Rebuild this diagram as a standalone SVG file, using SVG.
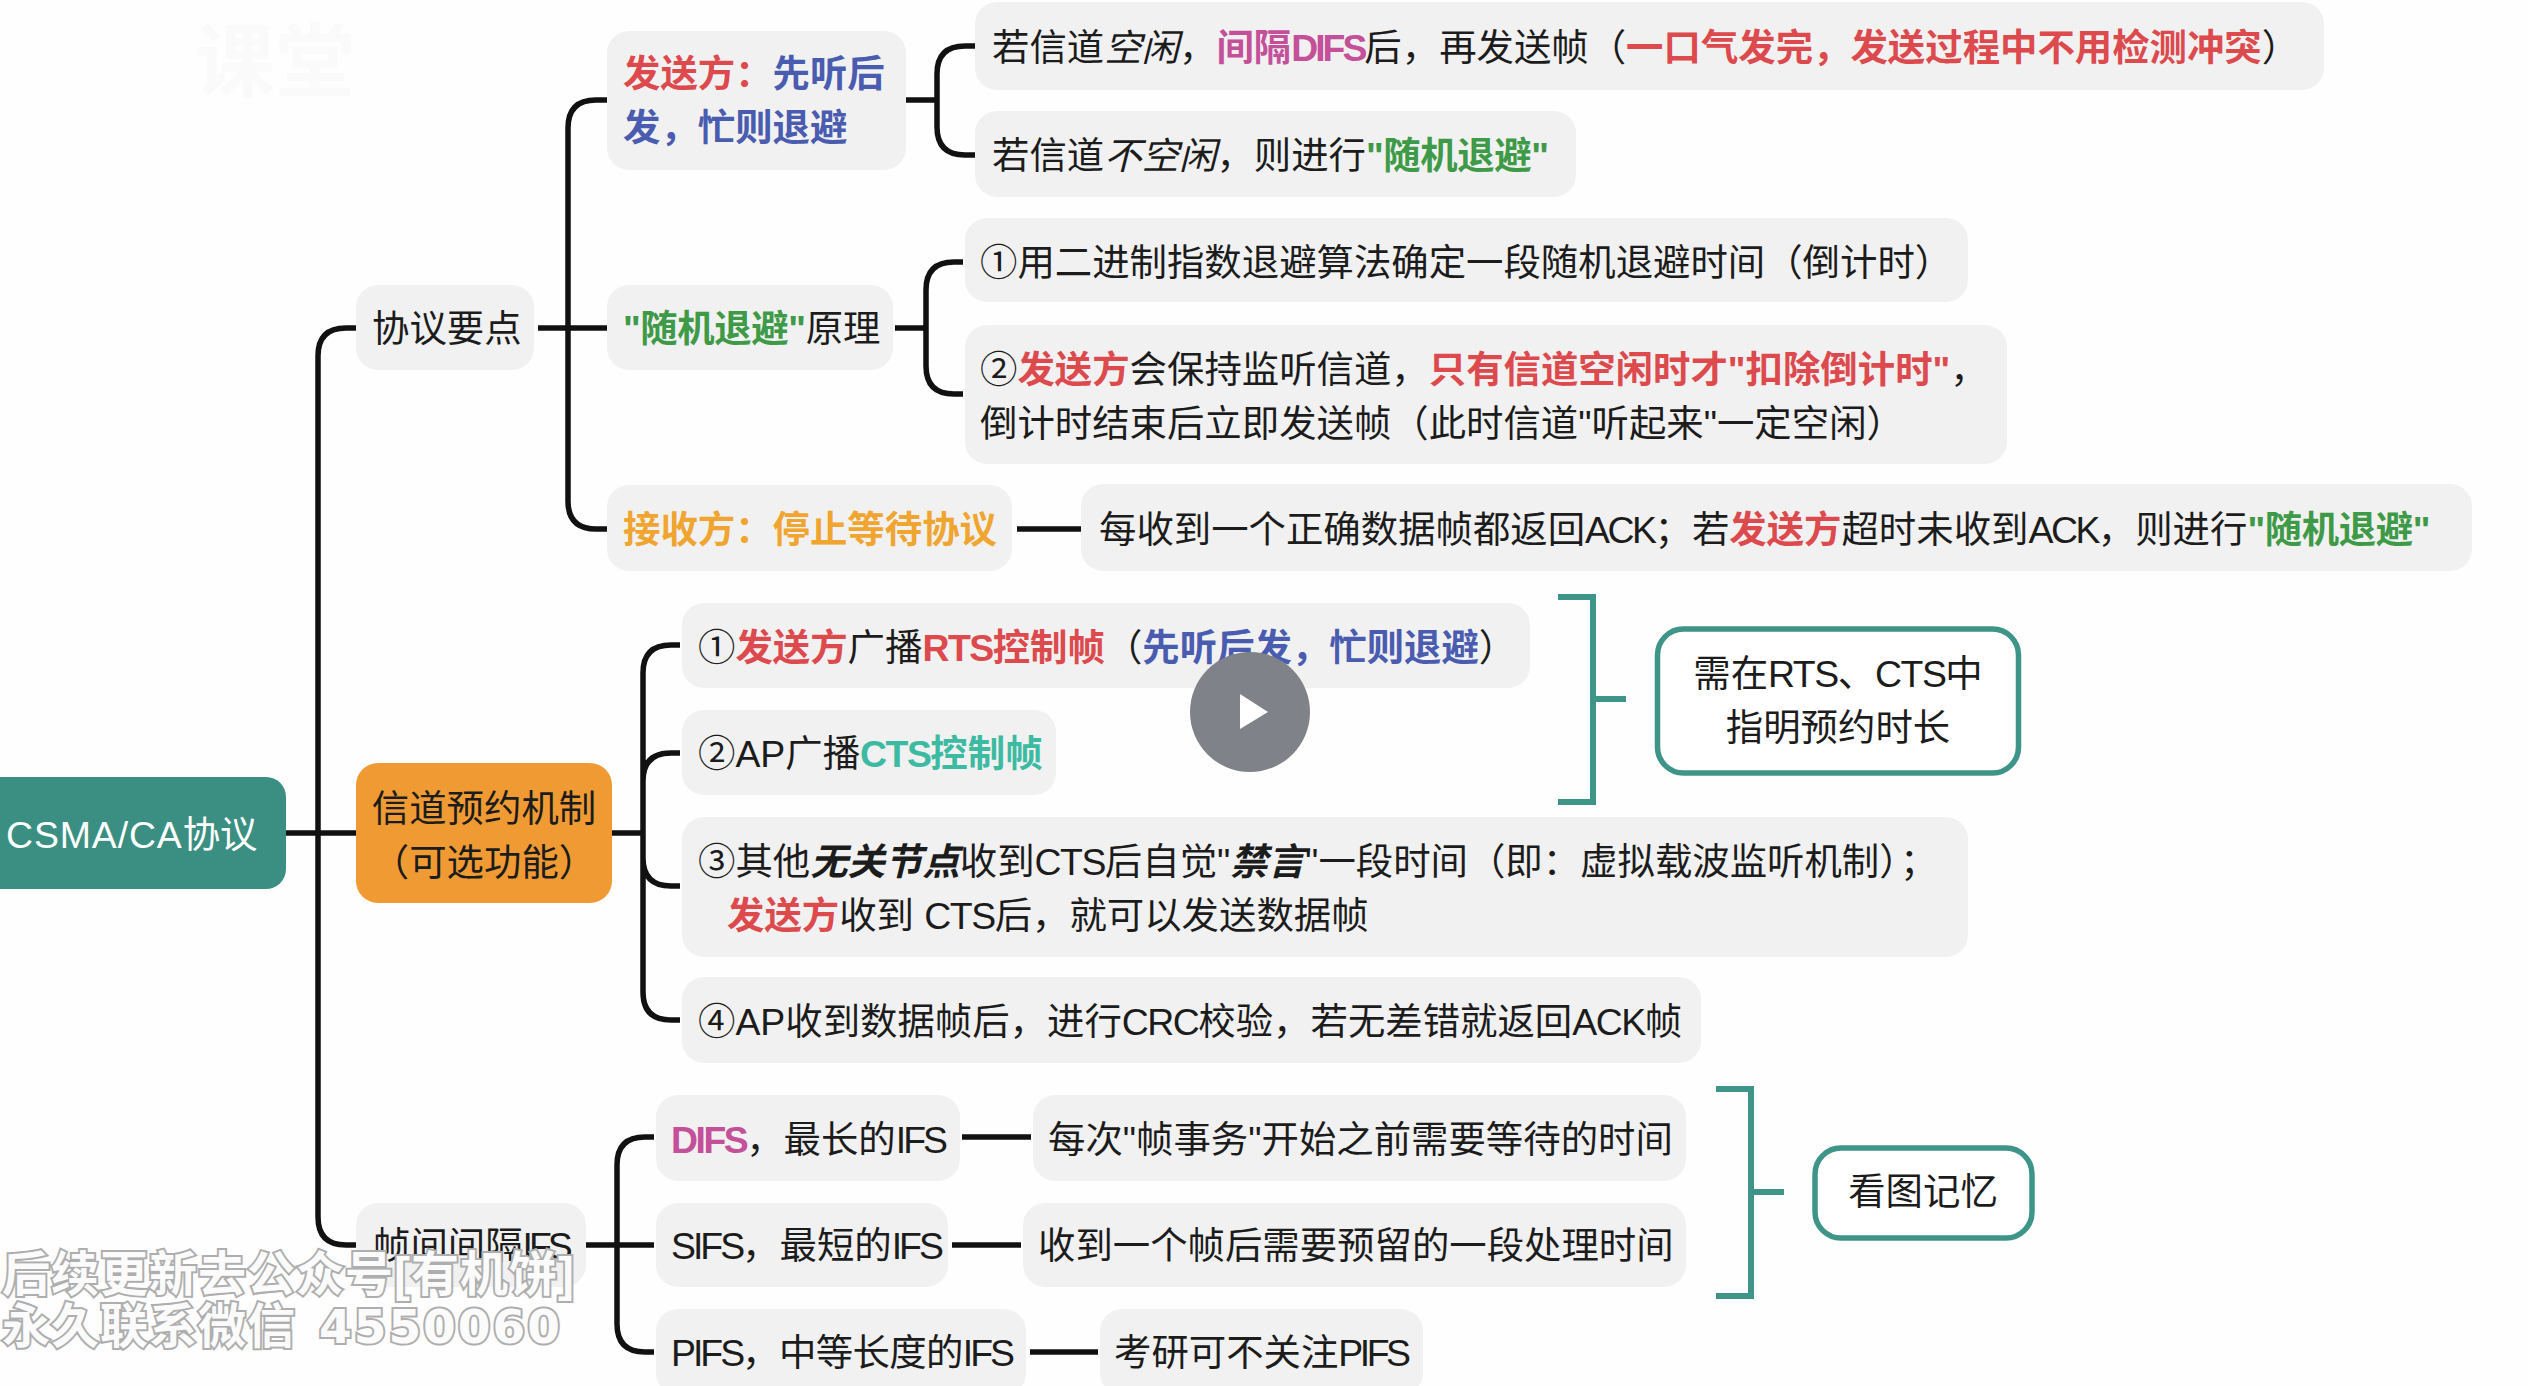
<svg xmlns="http://www.w3.org/2000/svg" width="2528" height="1386" viewBox="0 0 2528 1386">
<style>
text{font-family:"Liberation Sans","Noto Sans CJK SC",sans-serif;font-size:37.4px;fill:#1c1c1c}
.n{fill:#f1f1f1}
.c path{fill:none;stroke:#111;stroke-width:5.5;stroke-linecap:butt}
.b path{fill:none;stroke:#3f9488;stroke-width:6}
.o{fill:#fff;stroke:#3f9488;stroke-width:5.5}
.r{fill:#dd4a4e;font-weight:700}
.bl{fill:#4a5cb0;font-weight:700}
.g{fill:#3f9a48;font-weight:700;letter-spacing:-.4px}
.y{fill:#efa52f;font-weight:700}
.m{fill:#c4509a;font-weight:700}
.t{fill:#3dbaa2;font-weight:700}
.i{font-style:italic}
.bi{font-style:italic;font-weight:700}
.l{letter-spacing:-3px}
.k{letter-spacing:-2.5px}
.s{letter-spacing:-1.5px}
.w{font-size:48px;font-weight:700;fill:#fbfbfb;stroke:#aeaeae;stroke-width:4}
.d{font-family:"DejaVu Sans",sans-serif;font-size:47px;letter-spacing:2px}
.wt{font-weight:700;fill:#fafafa;font-size:80px}
</style>
<rect width="2528" height="1386" fill="#fefefe"/>
<text class="wt" x="195" y="90">课堂</text>
<g class="c" id="connectors">
<path d="M286 833H356"/>
<path d="M356 328H346Q318 328 318 356V1217Q318 1245 346 1245H358"/>
<path d="M538 328H607"/>
<path d="M607 100H596Q568 100 568 128V501Q568 529 596 529H607"/>
<path d="M906 100H937M976 46H965Q937 46 937 74V127Q937 155 965 155H976"/>
<path d="M895 328H926M963 262H954Q926 262 926 290V366Q926 394 954 394H963"/>
<path d="M1017 529H1081"/>
<path d="M612 833H643M680 645H671Q643 645 643 673V992Q643 1020 671 1020H680M680 753H671Q643 753 643 781M643 858Q643 886 671 886H680"/>
<path d="M586 1245H654M654 1137H645Q617 1137 617 1165V1324Q617 1352 645 1352H654"/>
<path d="M962 1137H1031"/>
<path d="M952 1245H1021"/>
<path d="M1030 1352H1098"/>
</g>
<g class="b" id="brackets">
<path d="M1558 597H1593V802H1558M1593 699H1626"/>
<path d="M1716 1089H1751V1296H1716M1751 1192H1784"/>
</g>
<g id="root"><rect x="-20" y="777" width="306" height="112" rx="20" fill="#3b8f82"/><text x="6" y="848" style="fill:#fff"><tspan letter-spacing=".9">CSMA/CA</tspan>协议</text></g>
<g id="n-yaodian"><rect class="n" x="356" y="285" width="178" height="85" rx="22"/><text x="372" y="342">协议要点</text></g>
<g id="n-yuyue"><rect x="356" y="763" width="256" height="140" rx="22" fill="#f09a33"/><text x="484" y="822" text-anchor="middle">信道预约机制</text><text x="484" y="876" text-anchor="middle">（可选功能）</text></g>
<g id="n-ifs"><rect class="n" x="356" y="1203" width="230" height="84" rx="22"/><text x="373" y="1259">帧间间隔<tspan letter-spacing="-4">IFS</tspan></text></g>
<g id="n-send"><rect class="n" x="607" y="31" width="299" height="139" rx="22"/><text x="623" y="87"><tspan class="r">发送方：</tspan><tspan class="bl">先听后</tspan></text><text x="623" y="141" class="bl">发，忙则退避</text></g>
<g id="n-rand"><rect class="n" x="607" y="285" width="286" height="85" rx="22"/><text x="623" y="342"><tspan class="g">"随机退避"</tspan>原理</text></g>
<g id="n-recv"><rect class="n" x="607" y="485" width="405" height="86" rx="22"/><text x="623" y="543" class="y">接收方：停止等待协议</text></g>
<g id="n-a1"><rect class="n" x="975" y="2" width="1349" height="88" rx="22"/><text x="992" y="61">若信道<tspan class="i">空闲</tspan>，<tspan class="m">间隔<tspan class="l">DIFS</tspan></tspan>后，再发送帧（<tspan class="r">一口气发完，发送过程中不用检测冲突</tspan>）</text></g>
<g id="n-a2"><rect class="n" x="975" y="111" width="601" height="86" rx="22"/><text x="992" y="169">若信道<tspan class="i">不空闲</tspan>，则进行<tspan class="g">"随机退避"</tspan></text></g>
<g id="n-b1"><rect class="n" x="965" y="218" width="1003" height="84" rx="22"/><text x="980" y="276">①用二进制指数退避算法确定一段随机退避时间（倒计时）</text></g>
<g id="n-b2"><rect class="n" x="965" y="325" width="1042" height="139" rx="22"/><text x="980" y="383">②<tspan class="r">发送方</tspan>会保持监听信道，<tspan class="r">只有信道空闲时才"扣除倒计时"</tspan>，</text><text x="980" y="437">倒计时结束后立即发送帧（此时信道"听起来"一定空闲）</text></g>
<g id="n-c"><rect class="n" x="1081" y="484" width="1391" height="87" rx="22"/><text x="1099" y="543">每收到一个正确数据帧都返回<tspan class="k">ACK</tspan>；若<tspan class="r">发送方</tspan>超时未收到<tspan class="k">ACK</tspan>，则进行<tspan class="g">"随机退避"</tspan></text></g>
<g id="n-d1"><rect class="n" x="682" y="603" width="848" height="85" rx="22"/><text x="698" y="661">①<tspan class="r">发送方</tspan>广播<tspan class="r"><tspan class="s">RTS</tspan>控制帧</tspan>（<tspan class="bl">先听后发，忙则退避</tspan>）</text></g>
<g id="n-d2"><rect class="n" x="682" y="710" width="374" height="85" rx="22"/><text x="698" y="767">②AP广播<tspan class="t"><tspan class="s">CTS</tspan>控制帧</tspan></text></g>
<g id="n-d3"><rect class="n" x="682" y="817" width="1286" height="140" rx="22"/><text x="698" y="875">③其他<tspan class="bi">无关节点</tspan>收到<tspan class="s">CTS</tspan>后自觉"<tspan class="bi">禁言</tspan>"一段时间（即：虚拟载波监听机制）<tspan dx="2">；</tspan></text><text x="727" y="929"><tspan class="r">发送方</tspan>收到 <tspan class="s">CTS</tspan>后，就可以发送数据帧</text></g>
<g id="n-d4"><rect class="n" x="682" y="977" width="1019" height="86" rx="22"/><text x="698" y="1035">④AP收到数据帧后，进行<tspan class="s">CRC</tspan>校验，若无差错就返回<tspan class="s">ACK</tspan>帧</text></g>
<g id="n-e1"><rect class="n" x="656" y="1095" width="304" height="86" rx="22"/><text x="671" y="1153"><tspan class="m k">DIFS</tspan>，最长的<tspan class="l">IFS</tspan></text></g>
<g id="n-e2"><rect class="n" x="656" y="1203" width="292" height="84" rx="22"/><text x="671" y="1259"><tspan class="l">SIFS</tspan>，最短的<tspan class="l">IFS</tspan></text></g>
<g id="n-e3"><rect class="n" x="656" y="1309" width="370" height="86" rx="22"/><text x="671" y="1366" letter-spacing="-.6"><tspan class="l">PIFS</tspan>，中等长度的<tspan class="l">IFS</tspan></text></g>
<g id="n-f1"><rect class="n" x="1033" y="1095" width="653" height="86" rx="22"/><text x="1048" y="1153">每次"帧事务"开始之前需要等待的时间</text></g>
<g id="n-f2"><rect class="n" x="1023" y="1203" width="663" height="84" rx="22"/><text x="1038" y="1259">收到一个帧后需要预留的一段处理时间</text></g>
<g id="n-f3"><rect class="n" x="1100" y="1309" width="323" height="86" rx="22"/><text x="1114" y="1366">考研可不关注<tspan letter-spacing="-3.5">PIFS</tspan></text></g>
<g id="n-note1"><rect class="o" x="1657.5" y="629" width="361" height="144" rx="26"/><text x="1838" y="687" text-anchor="middle">需在<tspan class="s">RTS</tspan>、<tspan class="s">CTS</tspan>中</text><text x="1838" y="741" text-anchor="middle">指明预约时长</text></g>
<g id="n-note2"><rect class="o" x="1815" y="1148" width="217" height="90" rx="26"/><text x="1923" y="1205" text-anchor="middle">看图记忆</text></g>
<g id="play"><circle cx="1250" cy="712" r="60" fill="#7f8288"/><polygon points="1240,694 1268,712 1240,729" fill="#fff"/></g>
<text class="w" x="2" y="1291" paint-order="stroke" letter-spacing="1">后续更新去公众号[有机饼]</text>
<text class="w" x="2" y="1343" paint-order="stroke" letter-spacing="1">永久联系微信<tspan class="d" x="319">4550060</tspan></text>
</svg>
